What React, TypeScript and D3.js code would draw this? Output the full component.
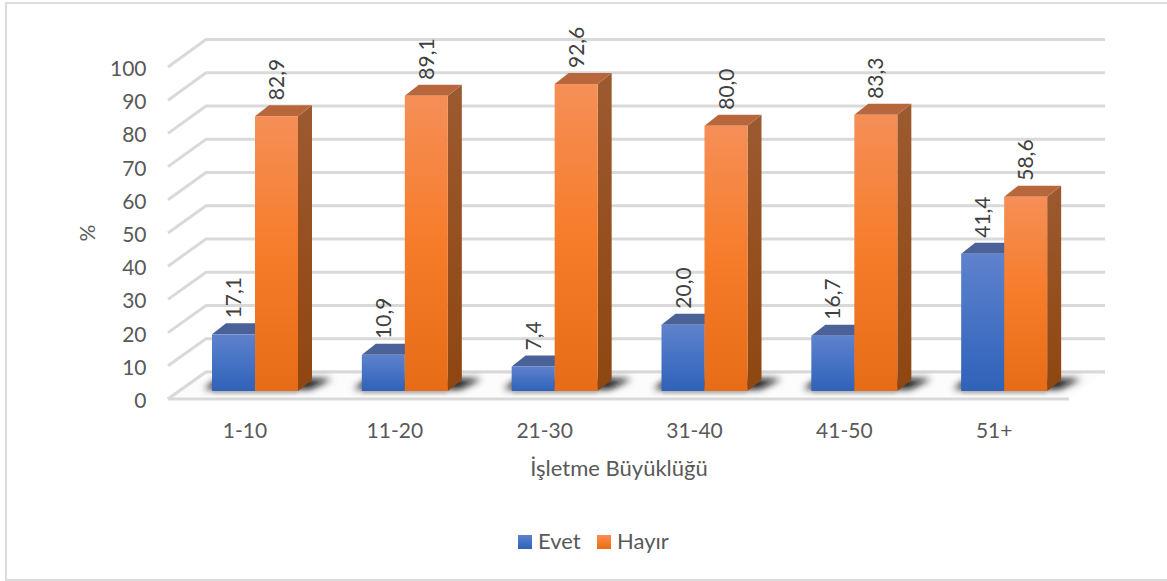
import React from "react";
import * as d3 from "d3";

const categories = ["1-10", "11-20", "21-30", "31-40", "41-50", "51+"];
const evet = [17.1, 10.9, 7.4, 20.0, 16.7, 41.4];
const hayir = [82.9, 89.1, 92.6, 80.0, 83.3, 58.6];
const ticks = [0, 10, 20, 30, 40, 50, 60, 70, 80, 90, 100];

const W = 1167;
const H = 581;
const font = "Lato, 'Open Sans', sans-serif";
const textColor = "#595959";

// Projected 3D frame: front plane and back wall of the value axis
const frontY = d3.scaleLinear().domain([0, 100]).range([399, 67]);
const backY = d3.scaleLinear().domain([0, 100]).range([372, 39.5]);
const barY = d3.scaleLinear().domain([0, 100]).range([391, 59.5]);
const frontX0 = 168;
const backX0 = 206;
const backX1 = 1105;
const floorX1 = 1069;

const groupX = d3.scaleBand<string>().domain(categories).range([212, 1111]);
const barW = 43;
const depthX = 14;
const depthY = 11;

const fmt = (v: number) => v.toFixed(1).replace(".", ",");
const poly = (pts: [number, number][]) => pts.map((p) => p.join(",")).join(" ");

type Palette = { id: string; top: string; side0: string; side1: string };
const bluePal: Palette = { id: "gBlue", top: "#4a6298", side0: "#41598f", side1: "#2a4a8a" };
const orangePal: Palette = { id: "gOrange", top: "#b8673c", side0: "#9c5a30", side1: "#8f4610" };

function Bar({ x, value, pal }: { x: number; value: number; pal: Palette }) {
  const y0 = barY(0);
  const y1 = barY(value);
  return (
    <g>
      <polygon
        points={poly([[x + barW, y0], [x + barW + depthX, y0 - depthY], [x + barW + depthX, y1 - depthY], [x + barW, y1]])}
        fill={`url(#${pal.id}Side)`}
      />
      <polygon
        points={poly([[x, y1], [x + depthX, y1 - depthY], [x + barW + depthX, y1 - depthY], [x + barW, y1]])}
        fill={pal.top}
      />
      <rect x={x} y={y1} width={barW} height={y0 - y1} fill={`url(#${pal.id})`} />
    </g>
  );
}

function Stops({ a, b, c }: { a: string; b: string; c: string }) {
  return (
    <>
      <stop offset="0" stopColor={a} />
      <stop offset="0.5" stopColor={b} />
      <stop offset="1" stopColor={c} />
    </>
  );
}

export default function App() {
  return (
    <svg
      width={W}
      height={H}
      viewBox={`0 0 ${W} ${H}`}
      style={{ position: "absolute", left: 0, top: 0, background: "#fff" }}
    >
      <defs>
        <linearGradient id="gBlue" x1="0" y1="0" x2="0" y2="1">
          <Stops a="#5f82cc" b="#4672c4" c="#2f62b8" />
        </linearGradient>
        <linearGradient id="gOrange" x1="0" y1="0" x2="0" y2="1">
          <Stops a="#f58f57" b="#f67c2a" c="#e66c17" />
        </linearGradient>
        <linearGradient id="gBlueSide" x1="0" y1="0" x2="0" y2="1">
          <stop offset="0" stopColor={bluePal.side0} />
          <stop offset="1" stopColor={bluePal.side1} />
        </linearGradient>
        <linearGradient id="gOrangeSide" x1="0" y1="0" x2="0" y2="1">
          <stop offset="0" stopColor={orangePal.side0} />
          <stop offset="1" stopColor={orangePal.side1} />
        </linearGradient>
        <filter id="shadowBlur" x="-20%" y="-100%" width="140%" height="300%">
          <feGaussianBlur stdDeviation="3.5" />
        </filter>
        <filter id="glowBlur" x="-10%" y="-200%" width="120%" height="500%">
          <feGaussianBlur stdDeviation="1.5" />
        </filter>
      </defs>

      {/* Chart frame; its right side runs off the canvas */}
      <rect x={6} y={3} width={W + 10} height={577} fill="#fff" stroke="#dcdcdc" strokeWidth={2} />

      {/* Back wall and side wall gridlines */}
      <g stroke="#d9d9d9" strokeWidth={3} fill="none">
        {ticks.map((t) => (
          <path
            key={t}
            d={`M${frontX0},${frontY(t)}L${backX0},${backY(t)}L${backX1},${backY(t)}`}
          />
        ))}
      </g>

      {/* Floor */}
      <polygon
        points={poly([[frontX0, 399], [backX0, 372], [backX1, 372], [floorX1, 399]])}
        fill="#fcfcfc"
      />
      <path d={`M${backX0},372L${backX1},372`} stroke="#d9d9d9" strokeWidth={3} />
      <path d={`M${frontX0},399L${backX0},372`} stroke="#d9d9d9" strokeWidth={3} />
      <path d={`M${frontX0},399L${floorX1},399`} stroke="#d9d9d9" strokeWidth={3} />

      {/* Soft contact shadows on the floor */}
      <g>
        {categories.map((c) => {
          const x = groupX(c)!;
          return (
            <g key={c}>
              <polygon
                points={poly([
                  [x - 8, 389],
                  [x + 6, 379],
                  [x + 2 * barW + depthX + 20, 379],
                  [x + 2 * barW + 12, 389],
                ])}
                fill="#111"
                filter="url(#shadowBlur)"
              />
              <rect
                x={x + 1}
                y={391}
                width={2 * barW - 2}
                height={2.5}
                fill="#aaa"
                opacity={0.7}
                filter="url(#glowBlur)"
              />
            </g>
          );
        })}
      </g>

      {/* Bars */}
      {categories.map((c, i) => {
        const x = groupX(c)!;
        return (
          <g key={c}>
            <Bar x={x} value={evet[i]} pal={bluePal} />
            <Bar x={x + barW} value={hayir[i]} pal={orangePal} />
          </g>
        );
      })}

      {/* Value labels */}
      <g fontFamily={font} fontSize={21} fill="#404040">
        {categories.map((c, i) => {
          const x = groupX(c)!;
          return (
            <g key={c}>
              <text transform={`translate(${x + 29},${barY(evet[i]) - 16}) rotate(-90)`}>{fmt(evet[i])}</text>
              <text transform={`translate(${x + barW + 29},${barY(hayir[i]) - 16}) rotate(-90)`}>{fmt(hayir[i])}</text>
            </g>
          );
        })}
      </g>

      {/* Value axis */}
      <g fontFamily={font} fontSize={21} fill={textColor} textAnchor="end">
        {ticks.map((t) => (
          <text key={t} x={146.5} y={frontY(t) + 9}>
            {t}
          </text>
        ))}
      </g>

      {/* Category axis */}
      <g fontFamily={font} fontSize={21} fill={textColor} textAnchor="middle">
        {categories.map((c) => (
          <text key={c} x={groupX(c)! + 33} y={437.5}>
            {c}
          </text>
        ))}
      </g>

      <text x={619} y={476} fontFamily={font} fontSize={22} fill={textColor} textAnchor="middle">
        İşletme Büyüklüğü
      </text>
      <text
        transform="translate(95,233) rotate(-90)"
        fontFamily={font}
        fontSize={21}
        fill={textColor}
        textAnchor="middle"
      >
        %
      </text>

      {/* Legend */}
      <g fontFamily={font} fontSize={22} fill={textColor}>
        <rect x={518} y={535} width={14} height={14} fill="url(#gBlue)" />
        <text x={538} y={549}>Evet</text>
        <rect x={597} y={535} width={14} height={14} fill="url(#gOrange)" />
        <text x={617} y={549}>Hayır</text>
      </g>
    </svg>
  );
}
